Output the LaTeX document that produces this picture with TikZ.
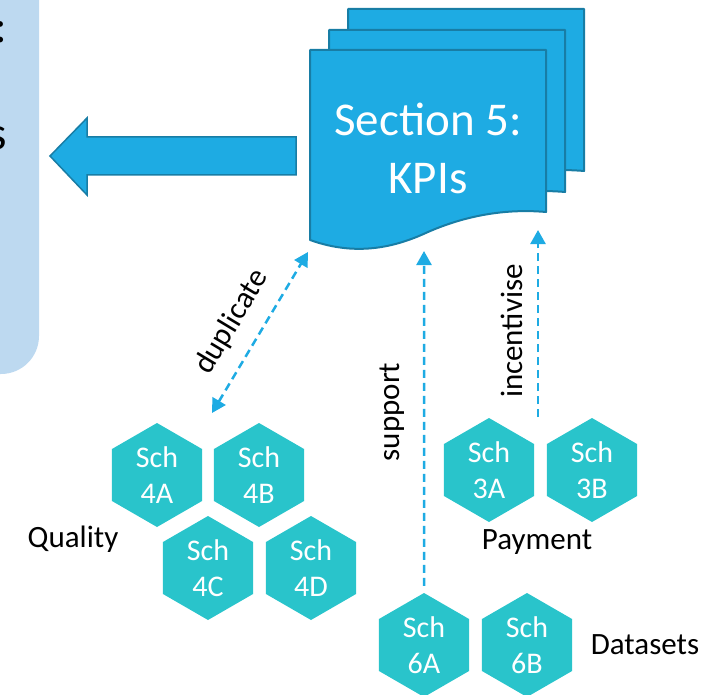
\documentclass[tikz,border=0pt]{standalone}
\usepackage{fontspec}
\setmainfont{Carlito}
\usetikzlibrary{shapes.geometric,arrows.meta}
\definecolor{docblue}{RGB}{30,171,227}
\definecolor{docedge}{RGB}{24,125,165}
\definecolor{hexteal}{RGB}{41,196,203}
\definecolor{panelblue}{RGB}{189,217,240}
\tikzset{
  hexbox/.style={regular polygon, regular polygon sides=6, shape border rotate=30,
    minimum size=104pt, inner sep=0pt, fill=hexteal, text=white, align=center,
    font=\fontsize{30}{36}\selectfont},
  doc/.style={fill=docblue, draw=docedge, line width=2pt, line join=round},
  bigarrow/.style={fill=docblue, draw=docedge, line width=1.5pt, line join=miter},
  link/.style={draw=docblue, line width=2.5pt, dash pattern=on 8pt off 5pt},
  tip/.style={-{Triangle[length=14pt,width=15pt]}},
  tips/.style={{Triangle[length=14pt,width=15pt]}-{Triangle[length=14pt,width=15pt]}},
  lbl/.style={font=\fontsize{31}{37}\selectfont, text=black, inner sep=0pt},
}
\newcommand{\docpage}{%
  (310,50) -- (546,50) -- (546,212)
  .. controls (500,208) and (460,218) .. (428,232)
  .. controls (400,245) and (360,258) .. (310,240) -- cycle}
\begin{document}
\begin{tikzpicture}[x=1pt,y=-1pt]
\useasboundingbox (0,0) rectangle (717,695);

% side panel, cut at the page edge
\begin{scope}
  \clip (0,0) rectangle (717,695);
  \fill[panelblue, rounded corners=38pt] (-60,-60) rectangle (39,374);
  \node[lbl, font=\fontsize{47}{57}\selectfont, anchor=base east] (pcolon) at (7,43) {:};
  \node[lbl, font=\fontsize{47}{57}\selectfont, anchor=base east] (pess) at (7,150) {s};
\end{scope}

% wide arrow pointing to the panel
\draw[bigarrow] (296,137) -- (87,137) -- (87,118) -- (50,156) -- (87,195)
  -- (87,175) -- (296,175) -- cycle;

% stack of KPI documents
\begin{scope}[shift={(38,-41)}]
  \path[doc] \docpage;
\end{scope}
\begin{scope}[shift={(19,-20)}]
  \path[doc] \docpage;
\end{scope}
\path[doc] \docpage;
\node[text=white, align=center, font=\fontsize{47}{58}\selectfont, inner sep=0pt]
  (kpi) at (428,148) {Section 5:\\KPIs};

% schedule hexagons
\node[hexbox] (h4A) at (157,475) {Sch\\4A};
\node[hexbox] (h4B) at (259,475) {Sch\\4B};
\node[hexbox] (h4C) at (208,568) {Sch\\4C};
\node[hexbox] (h4D) at (311,568) {Sch\\4D};
\node[hexbox] (h3A) at (489,470) {Sch\\3A};
\node[hexbox] (h3B) at (592,470) {Sch\\3B};
\node[hexbox] (h6A) at (424,645) {Sch\\6A};
\node[hexbox] (h6B) at (527,645) {Sch\\6B};

% group labels
\node[lbl] (quality) at (73,539) {Quality};
\node[lbl] (payment) at (537,542) {Payment};
\node[lbl] (datasets) at (645,645) {Datasets};

% connector end points on the document stack
\coordinate (kpiDup) at (308,252);
\coordinate (kpiSup) at (424,251);
\coordinate (kpiInc) at (538,230);
\coordinate (dupEnd) at (212,413);
\coordinate (incStart) at (538,417);

% relations
\draw[link, tips] (dupEnd) -- (kpiDup);
\draw[link, tip] ([yshift=7pt]h6A.north) -- (kpiSup);
\draw[link, tip] (incStart) -- (kpiInc);

\node[lbl, rotate=59] (ldup) at (232,322) {duplicate};
\node[lbl, rotate=90] (lsup) at (392,412) {support};
\node[lbl, rotate=90] (linc) at (512,331) {incentivise};
\end{tikzpicture}
\end{document}
